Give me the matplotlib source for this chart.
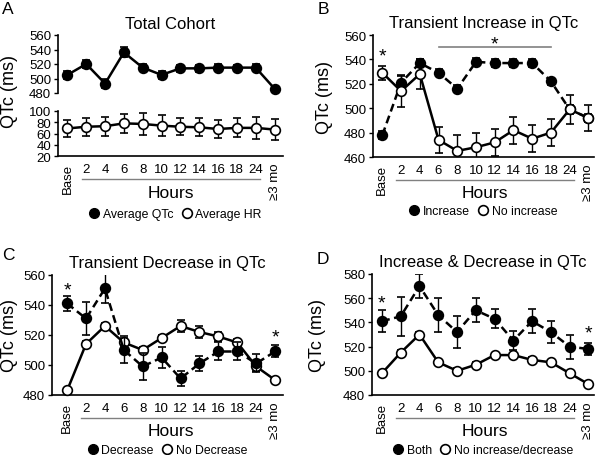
import matplotlib.pyplot as plt
from matplotlib.lines import Line2D
from matplotlib.transforms import blended_transform_factory, ScaledTranslation

plt.rcParams['font.family'] = ['Liberation Sans', 'DejaVu Sans']

# data (mean +/- error)
hours = ['Base', '2', '4', '6', '8', '10', '12', '14', '16', '18', '24', '≥3 mo']
x = list(range(len(hours)))

# A - total cohort
qtc_avg = [505, 520, 493, 536, 515, 505, 514, 514, 515, 515, 515, 486]
qtc_avg_err = [5, 6, 6, 7, 5, 6, 5, 5, 5, 4, 5, 4]
hr_avg = [69, 72, 73, 78, 77, 74, 72, 71, 68, 70, 70, 67]
hr_avg_err = [15, 16, 17, 17, 19, 19, 15, 16, 16, 17, 19, 19]

# B - transient increase
inc = [478, 521, 537, 529, 516, 538, 537, 537, 537, 522, 499, 492]
inc_err = [3, 5, 3, 3, 3, 3, 3, 3, 3, 3, 4, 3]
no_inc = [529, 514, 528, 474, 465, 468, 472, 482, 475, 480, 499, 492]
no_inc_err = [6, 13, 12, 11, 13, 12, 11, 11, 11, 11, 12, 11]

# C - transient decrease
dec = [541, 531, 551, 510, 499, 505, 491, 501, 509, 509, 501, 509]
dec_err = [5, 11, 10, 9, 9, 7, 5, 5, 6, 6, 6, 4]
no_dec = [483, 514, 526, 515, 510, 518, 526, 522, 519, 515, 499, 490]
no_dec_err = [1, 2, 2, 3, 2, 2, 4, 4, 3, 2, 3, 1]

# D - increase & decrease
both = [541, 545, 570, 546, 532, 550, 543, 525, 541, 532, 520, 518]
both_err = [9, 16, 10, 14, 13, 10, 8, 8, 10, 9, 10, 5]
no_both = [498, 515, 530, 507, 500, 505, 513, 513, 509, 507, 498, 489]
no_both_err = [2, 2, 2, 2, 2, 2, 2, 2, 2, 2, 2, 1]

W, H = 600, 456
fig = plt.figure(figsize=(W / 100, H / 100), dpi=100)


def add_axes(left, right, top, bottom):
    return fig.add_axes([left / W, 1 - bottom / H, (right - left) / W, (bottom - top) / H])


def style(ax, ylim, yticks, xlim, show_x=True):
    for s in ['top', 'right']:
        ax.spines[s].set_visible(False)
    ax.spines['left'].set_linewidth(1.2)
    ax.spines['bottom'].set_linewidth(1.2)
    ax.set_ylim(ylim)
    ax.set_yticks(yticks)
    ax.set_xlim(xlim)
    ax.tick_params(axis='y', length=3, width=1, labelsize=9.5, pad=2)
    if show_x:
        ax.set_xticks(x)
        ax.set_xticklabels(hours)
        ax.tick_params(axis='x', length=0, labelsize=9.5, pad=5)
        labels = ax.get_xticklabels()
        for lab in (labels[0], labels[-1]):
            lab.set_rotation(90)
        off = lambda px: ScaledTranslation(0, -px / 100, fig.dpi_scale_trans)
        tr = blended_transform_factory(ax.transData, ax.transAxes)
        ax.plot([0.75, 10.25], [0, 0], color='#808080', lw=1,
                transform=tr + off(23), clip_on=False)
        ax.text(5.5, 0, 'Hours', ha='center', va='center', fontsize=12.5,
                transform=tr + off(36))
    else:
        ax.spines['bottom'].set_visible(False)
        ax.set_xticks([])


def series(ax, y, err, filled, dashed, z):
    c = ax.errorbar(x, y, yerr=err, fmt='o', color='black',
                    mfc='black' if filled else 'white', mec='black', mew=1.2,
                    ms=7, lw=1.8, elinewidth=1, capsize=3, capthick=1,
                    ls='--' if dashed else '-', zorder=z)
    c[0].set_clip_on(False)
    if dashed:
        c[0].set_dashes((3.2, 1.8))
    return c


def legend(ax, labels, px=55, dx=0):
    handles = [Line2D([], [], ls='none', marker='o', ms=7, mfc='black', mec='black'),
               Line2D([], [], ls='none', marker='o', ms=7, mfc='white', mec='black', mew=1.2)]
    ax.legend(handles, labels, loc='center', ncol=2, frameon=False, fontsize=8.8,
              handlelength=0.8, handletextpad=0.3, columnspacing=0.7,
              bbox_to_anchor=(0.5, 0),
              bbox_transform=ax.transAxes + ScaledTranslation(dx / 100, -px / 100, fig.dpi_scale_trans))


# ---- A ----
axA1 = add_axes(58, 283, 36, 94)
axA2 = add_axes(58, 283, 112, 157)
style(axA1, (480, 560), range(480, 561, 20), (-0.5, 11.45), show_x=False)
style(axA2, (20, 100), range(20, 101, 20), (-0.5, 11.45))
series(axA1, qtc_avg, qtc_avg_err, True, False, 3)
series(axA2, hr_avg, hr_avg_err, False, False, 3)
axA1.set_title('Total Cohort', fontsize=12, pad=5)
fig.text(10 / W, 1 - 92 / H, 'QTc (ms)', rotation=90, ha='center', va='center', fontsize=13)
legend(axA2, ['Average QTc', 'Average HR'], px=58, dx=5)

# ---- B ----
axB = add_axes(373, 594, 36, 158)
style(axB, (460, 560), range(460, 561, 20), (-0.5, 11.3))
series(axB, inc, inc_err, True, True, 3)
series(axB, no_inc, no_inc_err, False, False, 4)
axB.set_title('Transient Increase in QTc', fontsize=12, pad=6)
axB.set_ylabel('QTc (ms)', fontsize=13)
axB.yaxis.set_label_coords(-40 / 221, 0.5)
axB.text(0, 543, '*', ha='center', va='center', fontsize=14)
axB.plot([3, 9], [550, 550], color='#808080', lw=1.2)
axB.text(6, 553, '*', ha='center', va='center', fontsize=14)
legend(axB, ['Increase', 'No increase'], px=54)

# ---- C ----
axC = add_axes(52, 283, 276, 396)
style(axC, (480, 560), range(480, 561, 20), (-0.8, 11.42))
series(axC, dec, dec_err, True, True, 4)
series(axC, no_dec, no_dec_err, False, False, 3)
axC.set_title('Transient Decrease in QTc', fontsize=12, pad=6)
axC.set_ylabel('QTc (ms)', fontsize=13)
axC.yaxis.set_label_coords(-34 / 231, 0.5)
axC.text(0, 550, '*', ha='center', va='center', fontsize=14)
axC.text(11, 519, '*', ha='center', va='center', fontsize=14)
legend(axC, ['Decrease', 'No Decrease'], px=55)

# ---- D ----
axD = add_axes(372, 594, 275, 396)
style(axD, (480, 580), range(480, 581, 20), (-0.53, 11.3))
series(axD, both, both_err, True, True, 3)
series(axD, no_both, no_both_err, False, False, 4)
axD.set_title('Increase & Decrease in QTc', fontsize=12, pad=6)
axD.set_ylabel('QTc (ms)', fontsize=13)
axD.yaxis.set_label_coords(-46 / 222, 0.5)
axD.text(0, 556, '*', ha='center', va='center', fontsize=14)
axD.text(11, 531, '*', ha='center', va='center', fontsize=14)
legend(axD, ['Both', 'No increase/decrease'], px=55)

# panel letters
for lab, px, py in [('A', 8, 9), ('B', 323, 10), ('C', 8, 256), ('D', 323, 259)]:
    fig.text(px / W, 1 - py / H, lab, ha='center', va='center', fontsize=12.5)

fig.savefig('out.png', dpi=100)
